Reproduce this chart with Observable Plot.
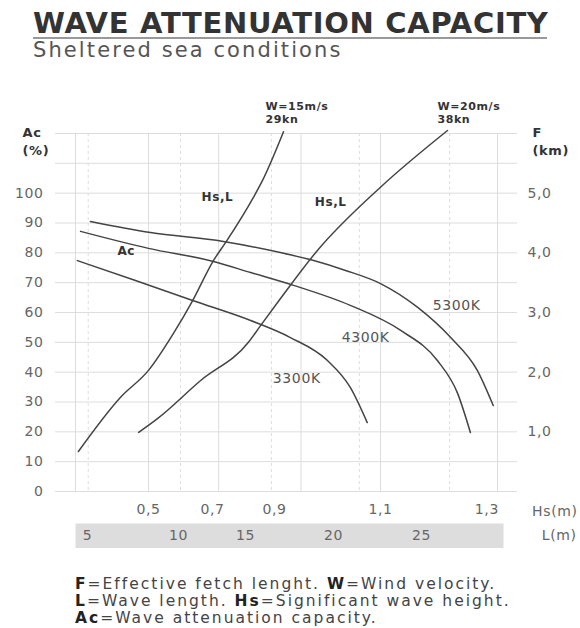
<!DOCTYPE html>
<html><head><meta charset="utf-8">
<script src="https://cdn.jsdelivr.net/npm/d3@7"></script>
<script src="https://cdn.jsdelivr.net/npm/@observablehq/plot@0.6"></script>
<style>
body{margin:0;width:580px;height:628px;position:relative;background:#fff;font-family:"DejaVu Sans",sans-serif;overflow:hidden}
.abs{position:absolute}
#title{left:33px;top:9px;font-size:29px;line-height:29px;font-weight:bold;color:#333;letter-spacing:0.7px;white-space:nowrap}
#rule{left:33px;top:37px;width:514px;height:2px;background:#999}
#subtitle{left:33px;top:40px;font-size:21px;line-height:21px;color:#555;letter-spacing:2.1px;white-space:nowrap}
#chart{left:0;top:70px}
#band{left:0;top:523px}
#notes{left:75px;top:576px;font-size:15.5px;line-height:16.8px;color:#444;letter-spacing:2px;white-space:nowrap}
#notes b{color:#222}
</style></head><body>
<div id="title" class="abs">WAVE ATTENUATION CAPACITY</div>
<div id="rule" class="abs"></div>
<div id="subtitle" class="abs">Sheltered sea conditions</div>
<div id="chart" class="abs"></div>
<div id="band" class="abs"></div>
<div id="notes" class="abs"><b>F</b>=Effective fetch lenght. <b>W</b>=Wind velocity.<br><b>L</b>=Wave length. <b>Hs</b>=Significant wave height.<br><b>Ac</b>=Wave attenuation capacity.</div>
<script>
// ---- tick labels ----
const hsTicks = [0.5, 0.7, 0.9, 1.1, 1.3];
const acTicks = [0, 10, 20, 30, 40, 50, 60, 70, 80, 90, 100];
const fTicks = [1, 2, 3, 4, 5];
const lTicks = [5, 10, 15, 20, 25];
const gridSolidHs = [0.27, 0.5, 0.72, 0.95, 1.1, 1.32];
const gridDashedHs = [0.31, 0.6, 0.89, 1.06, 1.23];
const gridAc = [0, 10, 20, 30, 40, 50, 60, 70, 80, 90, 100, 110, 120];

// ---- Ac curves: [Hs (m), Ac (%)] ----
const ac5300 = [[0.317,90.5],[0.506,86.8],[0.735,83.8],[0.911,80.1],[0.974,77.4],[1.034,74.1],[1.10,69.7],[1.170,61.7],[1.232,51.6],[1.282,40.6],[1.312,28.8]];
const ac4300 = [[0.286,87.2],[0.50,81.5],[0.703,77.1],[0.823,73.4],[0.936,69.1],[1.043,62.4],[1.138,54.0],[1.207,43.9],[1.245,32.9],[1.269,19.8]];
const ac3300 = [[0.276,77.4],[0.459,70.7],[0.638,64.0],[0.823,57.3],[0.930,51.6],[1.000,43.9],[1.043,34.9],[1.075,23.1]];

// ---- Hs,L curves: [Hs (m), F (km)] ----
const w15 = [[0.279,0.67],[0.412,1.58],[0.50,2.03],[0.578,2.65],[0.638,3.20],[0.703,3.87],[0.742,4.17],[0.832,4.93],[0.861,5.21],[0.917,6.03]];
const w20 = [[0.469,0.99],[0.528,1.22],[0.663,1.86],[0.816,2.50],[0.855,2.78],[0.911,3.23],[0.981,4.04],[1.10,5.10],[1.226,6.05]];

// ---- labels: [text, Hs, Ac] ----
const kLabels = [["5300K",1.243,62.4],["4300K",1.072,51.6],["3300K",0.942,37.9]];
const boldLabels = [["Ac",0.43,80.5],["Hs,L",0.716,98.6],["Hs,L",1.006,96.9]];
const windLabels = [["W=15m/s\n29kn",0.871,123.6],["W=20m/s\n38kn",1.207,123.6]];

const KM_TO_PCT = 20; // right axis: 1 km of fetch sits at 20 % on the left axis
const fmt = d => d.toFixed(1).replace(".", ",");
const rows = (pts, name, k = 1) => pts.map(([hs, v]) => ({hs, v: v * k, name}));
const acRows = [...rows(ac5300, "5300K"), ...rows(ac4300, "4300K"), ...rows(ac3300, "3300K")];
const wRows = [...rows(w15, "15", KM_TO_PCT), ...rows(w20, "20", KM_TO_PCT)];
const lab = arr => arr.map(([text, hs, v]) => ({text, hs, v}));

const gray = "#666", ink = "#444";
const chart = Plot.plot({
  width: 580, height: 452,
  marginLeft: 75, marginRight: 83, marginTop: 63, marginBottom: 31,
  style: {fontFamily: "DejaVu Sans, sans-serif", letterSpacing: "0.6px", background: "transparent"},
  x: {type: "linear", domain: [0.27, 0.5, 0.7, 0.9, 1.1, 1.32], range: [75, 148, 212, 274, 380, 497]},
  y: {domain: [0, 120]},
  marks: [
    Plot.ruleY(gridAc, {stroke: "#ddd", insetLeft: -20, insetRight: -20}),
    Plot.ruleX(gridSolidHs, {stroke: "#ddd"}),
    Plot.ruleX(gridDashedHs, {stroke: "#ddd", strokeDasharray: "3,3"}),
    Plot.line(acRows, {x: "hs", y: "v", z: "name", curve: "monotone-x", stroke: ink, strokeWidth: 1.5}),
    Plot.line(wRows, {x: "hs", y: "v", z: "name", curve: "monotone-x", stroke: ink, strokeWidth: 1.5}),
    Plot.axisY({anchor: "left", ticks: acTicks, tickSize: 0, tickPadding: 32, label: null, fontSize: 14, color: gray}),
    Plot.axisY({anchor: "right", ticks: fTicks.map(f => f * KM_TO_PCT), tickFormat: d => fmt(d / KM_TO_PCT), tickSize: 0, tickPadding: 30, label: null, fontSize: 14, color: gray}),
    Plot.axisX({ticks: hsTicks, tickFormat: fmt, tickSize: 0, tickPadding: 13, label: null, fontSize: 14, color: gray}),
    Plot.text(["Hs(m)"], {text: d => d, frameAnchor: "bottom-right", dx: 80, dy: 20, lineAnchor: "middle", textAnchor: "end", fontSize: 14, fill: gray}),
    Plot.text(["Ac"], {text: d => d, frameAnchor: "top-left", dx: -53, dy: -6, textAnchor: "start", fontSize: 13, fontWeight: "bold", fill: "#333"}),
    Plot.text(["(%)"], {text: d => d, frameAnchor: "top-left", dx: -53, dy: 12, textAnchor: "start", fontSize: 13, fontWeight: "bold", fill: "#333"}),
    Plot.text(["F"], {text: d => d, frameAnchor: "top-right", dx: 35, dy: -6, textAnchor: "start", fontSize: 13, fontWeight: "bold", fill: "#333"}),
    Plot.text(["(km)"], {text: d => d, frameAnchor: "top-right", dx: 35, dy: 12, textAnchor: "start", fontSize: 13, fontWeight: "bold", fill: "#333"}),
    Plot.text(lab(kLabels), {x: "hs", y: "v", text: "text", fontSize: 14, fill: "#555"}),
    Plot.text(lab(boldLabels), {x: "hs", y: "v", text: "text", fontSize: 12, fontWeight: "bold", fill: "#333"}),
    Plot.text(lab(windLabels), {x: "hs", y: "v", text: "text", textAnchor: "start", lineAnchor: "bottom", lineHeight: 1.15, fontSize: 11, fontWeight: "bold", fill: "#333"})
  ]
});
document.getElementById("chart").append(chart);

const band = Plot.plot({
  width: 580, height: 25,
  marginLeft: 75, marginRight: 77, marginTop: 0, marginBottom: 0,
  style: {fontFamily: "DejaVu Sans, sans-serif", letterSpacing: "0.6px", background: "transparent"},
  x: {type: "linear", domain: [4.34, 5, 10, 15, 20, 25, 29.66], range: [75, 87, 178, 245, 333, 421, 503], axis: null},
  marks: [
    Plot.frame({fill: "#ddd", stroke: null}),
    Plot.text(lTicks, {x: d => d, text: d => d, frameAnchor: "middle", fontSize: 14, fill: gray}),
    Plot.text(["L(m)"], {text: d => d, frameAnchor: "right", dx: 73, textAnchor: "end", fontSize: 14, fill: gray})
  ]
});
document.getElementById("band").append(band);
</script>
</body></html>
